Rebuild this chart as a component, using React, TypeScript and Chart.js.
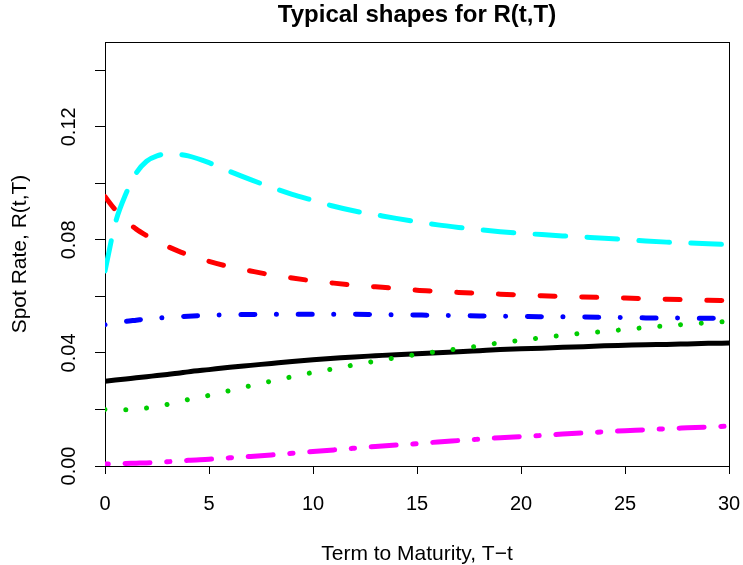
import React, { useEffect, useRef } from 'react';
import { Chart, registerables } from 'chart.js';

Chart.register(...registerables);

// Term to maturity (x) shared by all series
const terms = [0, 0.5, 1, 1.5, 2, 2.5, 3, 3.5, 4, 5, 6, 7, 8, 9, 10, 11, 12, 13, 14, 15, 16, 17, 18, 19, 20, 21, 22, 23, 24, 25, 26, 27, 28, 29, 30];

// Spot rate curves R(t,T)
const rateBlack = [0.0300, 0.0304, 0.0308, 0.0312, 0.0316, 0.0320, 0.0324, 0.0328, 0.0333, 0.0341, 0.0349, 0.0356, 0.0363, 0.0370, 0.0376, 0.0381, 0.0386, 0.0390, 0.0394, 0.0397, 0.0401, 0.0404, 0.0408, 0.0412, 0.0415, 0.0417, 0.0420, 0.0422, 0.0425, 0.0427, 0.0429, 0.0430, 0.0432, 0.0434, 0.0435];
const rateRed = [0.0953, 0.0906, 0.0868, 0.0838, 0.0815, 0.0795, 0.0777, 0.0761, 0.0747, 0.0724, 0.0705, 0.0690, 0.0676, 0.0665, 0.0655, 0.0647, 0.0640, 0.0634, 0.0628, 0.0622, 0.0618, 0.0614, 0.0611, 0.0608, 0.0605, 0.0602, 0.0600, 0.0598, 0.0596, 0.0594, 0.0592, 0.0590, 0.0588, 0.0586, 0.0585];
const rateGreen = [0.0200, 0.0199, 0.0199, 0.0201, 0.0205, 0.0211, 0.0218, 0.0226, 0.0235, 0.0250, 0.0267, 0.0284, 0.0300, 0.0316, 0.0331, 0.0344, 0.0358, 0.0371, 0.0383, 0.0395, 0.0405, 0.0415, 0.0425, 0.0436, 0.0445, 0.0454, 0.0462, 0.0470, 0.0476, 0.0483, 0.0490, 0.0496, 0.0502, 0.0507, 0.0512];
const rateBlue = [0.0500, 0.0507, 0.0512, 0.0516, 0.0520, 0.0523, 0.0526, 0.0528, 0.0530, 0.0533, 0.0535, 0.0536, 0.0537, 0.0537, 0.0537, 0.0537, 0.0537, 0.0536, 0.0535, 0.0534, 0.0533, 0.0532, 0.0531, 0.0530, 0.0529, 0.0528, 0.0528, 0.0527, 0.0526, 0.0525, 0.0524, 0.0524, 0.0523, 0.0523, 0.0522];
const rateCyan = [0.0690, 0.0860, 0.0962, 0.1036, 0.1078, 0.1097, 0.1104, 0.1103, 0.1097, 0.1073, 0.1042, 0.1013, 0.0986, 0.0961, 0.0940, 0.0919, 0.0902, 0.0889, 0.0876, 0.0864, 0.0853, 0.0844, 0.0836, 0.0829, 0.0823, 0.0819, 0.0814, 0.0810, 0.0806, 0.0801, 0.0796, 0.0792, 0.0789, 0.0786, 0.0783];
const rateMagenta = [0.0007, 0.0008, 0.0009, 0.0010, 0.0011, 0.0013, 0.0015, 0.0017, 0.0020, 0.0024, 0.0029, 0.0034, 0.0039, 0.0045, 0.0051, 0.0057, 0.0063, 0.0069, 0.0074, 0.0079, 0.0085, 0.0090, 0.0095, 0.0100, 0.0104, 0.0108, 0.0113, 0.0117, 0.0121, 0.0125, 0.0128, 0.0132, 0.0135, 0.0138, 0.0141];

// Axis ticks
const xTickValues = [0, 5, 10, 15, 20, 25, 30];
const xTickLabels = ['0', '5', '10', '15', '20', '25', '30'];
const yTickValues = [0, 0.02, 0.04, 0.06, 0.08, 0.10, 0.12, 0.14];
const yTickLabels = ['0.00', '', '0.04', '', '0.08', '', '0.12', ''];

const FONT = "'Liberation Sans', Arial, Helvetica, sans-serif";

const framePlugin = {
  id: 'frame',
  beforeDatasetsDraw(chart: any) {
    const { ctx, chartArea: a } = chart;
    ctx.save();
    ctx.strokeStyle = '#000';
    ctx.lineWidth = 1;
    const l = Math.round(a.left) + 0.5;
    const t = Math.round(a.top) + 0.5;
    const r = Math.round(a.right) + 0.5;
    const b = Math.round(a.bottom) + 0.5;
    ctx.strokeRect(l, t, r - l, b - t);
    ctx.restore();
  },
};

function series(values: number[], color: string, dash: number[], order: number) {
  return {
    data: terms.map((t, i) => ({ x: t, y: values[i] })),
    borderColor: color,
    backgroundColor: color,
    borderWidth: 5,
    borderDash: dash,
    borderCapStyle: 'round' as const,
    borderJoinStyle: 'round' as const,
    pointRadius: 0,
    pointHoverRadius: 0,
    fill: false,
    cubicInterpolationMode: 'monotone' as const,
    clip: 0,
    order,
  };
}

export default function App() {
  const ref = useRef<HTMLCanvasElement | null>(null);

  useEffect(() => {
    if (!ref.current) return;
    const chart = new Chart(ref.current, {
      type: 'line',
      data: {
        datasets: [
          series(rateBlack, '#000000', [], 6),
          series(rateRed, '#FF0000', [15, 26.7], 5),
          series(rateGreen, '#00CD00', [0.01, 20.8], 4),
          series(rateBlue, '#0000FF', [0.01, 21.8, 14, 21.5], 3),
          series(rateCyan, '#00FFFF', [30.7, 21.3], 2),
          series(rateMagenta, '#FF00FF', [3.3, 16.7, 25, 16.7], 1),
        ] as any,
      },
      options: {
        animation: false,
        responsive: false,
        devicePixelRatio: 1,
        events: [],
        layout: { padding: { left: 0, right: 14, top: 0, bottom: 0 } },
        plugins: {
          legend: { display: false },
          tooltip: { enabled: false },
          title: {
            display: true,
            text: 'Typical shapes for R(t,T)',
            color: '#000',
            fullSize: false,
            font: { family: FONT, size: 24, weight: 'bold', lineHeight: 1.2 },
            padding: { top: 0.6, bottom: 12.6 },
          },
        },
        scales: {
          x: {
            type: 'linear',
            min: 0,
            max: 30,
            afterBuildTicks: (s: any) => {
              s.ticks = xTickValues.map((v) => ({ value: v }));
            },
            afterFit: (s: any) => {
              s.height = 99;
              s.paddingLeft = 0;
              s.paddingRight = 0;
            },
            ticks: {
              autoSkip: false,
              maxRotation: 0,
              minRotation: 0,
              color: '#000',
              padding: 18.5,
              font: { family: FONT, size: 20, lineHeight: 1.2 },
              callback: (v: any) => {
                const i = xTickValues.indexOf(Number(v));
                return i >= 0 ? xTickLabels[i] : '';
              },
            },
            grid: { drawOnChartArea: false, drawTicks: true, tickLength: 8, color: '#000', lineWidth: 1 },
            border: { display: true, color: '#000', width: 1 },
            title: {
              display: true,
              text: 'Term to Maturity, T\u2212t',
              color: '#000',
              font: { family: FONT, size: 21, lineHeight: 1 },
              padding: { top: 0, bottom: 0.3 },
            },
          },
          y: {
            type: 'linear',
            min: 0,
            max: 0.15,
            afterBuildTicks: (s: any) => {
              s.ticks = yTickValues.map((v) => ({ value: v }));
            },
            afterFit: (s: any) => {
              s.width = 105;
              s.paddingTop = 0;
              s.paddingBottom = 0;
            },
            ticks: {
              autoSkip: false,
              minRotation: 90,
              maxRotation: 90,
              crossAlign: 'center',
              color: '#000',
              padding: 6.5,
              font: { family: FONT, size: 20, lineHeight: 1.2 },
              callback: (v: any) => {
                const i = yTickValues.findIndex((t) => Math.abs(t - Number(v)) < 1e-9);
                return i >= 0 ? yTickLabels[i] : '';
              },
            },
            grid: { drawOnChartArea: false, drawTicks: true, tickLength: 10, color: '#000', lineWidth: 1 },
            border: { display: true, color: '#000', width: 1 },
            title: {
              display: true,
              text: 'Spot Rate, R(t,T)',
              color: '#000',
              font: { family: FONT, size: 21, lineHeight: 1.2 },
              padding: { top: 7.4, bottom: 0 },
            },
          },
        },
      } as any,
      plugins: [framePlugin],
    });
    return () => chart.destroy();
  }, []);

  return (
    <div style={{ position: 'absolute', left: 0, top: 0, width: 743, height: 565, background: '#fff' }}>
      <canvas ref={ref} width={743} height={565} style={{ display: 'block', width: 743, height: 565 }} />
    </div>
  );
}
